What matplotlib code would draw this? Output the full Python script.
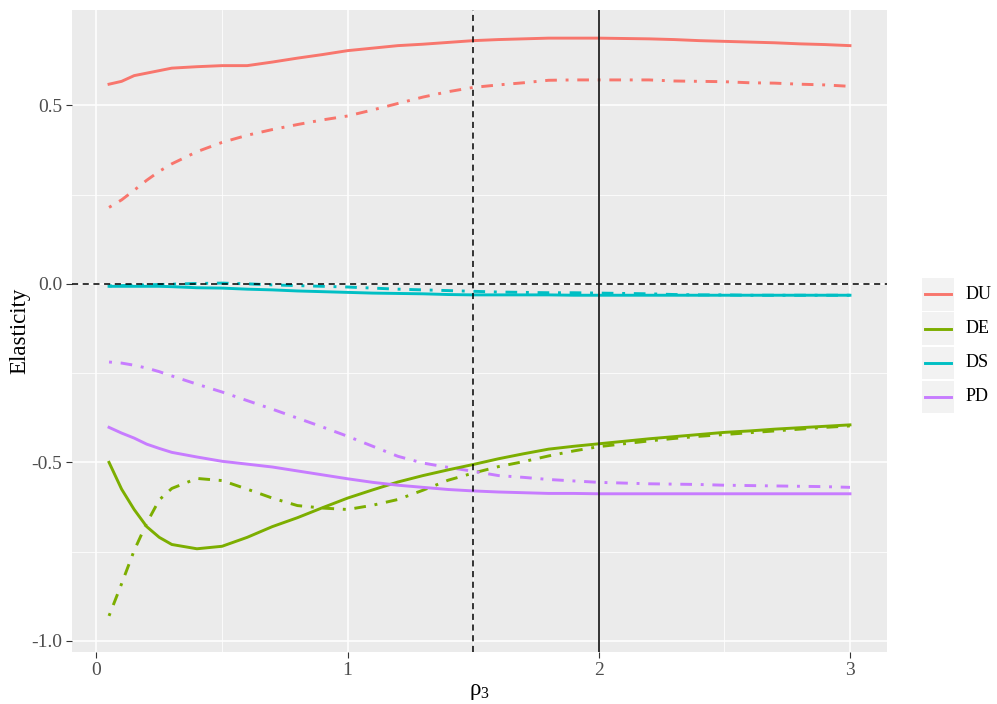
import matplotlib
matplotlib.use("Agg")
import matplotlib.pyplot as plt
from matplotlib.patches import Rectangle
from matplotlib.lines import Line2D

plt.rcParams['font.family'] = ['Liberation Serif', 'DejaVu Serif']
plt.rcParams['mathtext.fontset'] = 'custom'
plt.rcParams['mathtext.rm'] = 'Liberation Serif'
plt.rcParams['axes.unicode_minus'] = False

rho3 = [0.05, 0.1, 0.15, 0.2, 0.25, 0.3, 0.4, 0.5, 0.6, 0.7, 0.8, 0.9, 1.0,
        1.1, 1.2, 1.3, 1.4, 1.5, 1.6, 1.7, 1.8, 1.9, 2.0, 2.1, 2.2, 2.3,
        2.4, 2.5, 2.6, 2.7, 2.8, 2.9, 3.0]

du = [0.559, 0.567, 0.583, 0.590, 0.597, 0.604, 0.608, 0.611, 0.611, 0.621,
      0.632, 0.642, 0.653, 0.660, 0.667, 0.671, 0.676, 0.681, 0.684, 0.686,
      0.688, 0.688, 0.688, 0.687, 0.686, 0.684, 0.681, 0.679, 0.677, 0.675,
      0.672, 0.670, 0.667]
du_alt = [0.214, 0.235, 0.262, 0.290, 0.315, 0.336, 0.370, 0.396, 0.416, 0.432,
          0.446, 0.459, 0.470, 0.487, 0.505, 0.523, 0.538, 0.550, 0.557, 0.563,
          0.570, 0.571, 0.571, 0.571, 0.571, 0.568, 0.567, 0.566, 0.563, 0.562,
          0.559, 0.557, 0.553]

de = [-0.500, -0.575, -0.632, -0.680, -0.710, -0.730, -0.742, -0.735, -0.710,
      -0.680, -0.655, -0.627, -0.600, -0.577, -0.555, -0.537, -0.521, -0.506,
      -0.490, -0.476, -0.463, -0.455, -0.448, -0.441, -0.434, -0.428, -0.422,
      -0.416, -0.412, -0.407, -0.403, -0.399, -0.395]
de_alt = [-0.930, -0.840, -0.747, -0.670, -0.605, -0.573, -0.545, -0.551, -0.575,
          -0.600, -0.621, -0.628, -0.632, -0.620, -0.604, -0.578, -0.550, -0.530,
          -0.512, -0.498, -0.482, -0.468, -0.456, -0.448, -0.440, -0.433, -0.427,
          -0.422, -0.417, -0.412, -0.407, -0.402, -0.398]

ds = [-0.007, -0.007, -0.007, -0.007, -0.007, -0.008, -0.011, -0.012, -0.015,
      -0.017, -0.020, -0.022, -0.024, -0.026, -0.027, -0.028, -0.030, -0.031,
      -0.031, -0.031, -0.031, -0.032, -0.032, -0.032, -0.032, -0.032, -0.032,
      -0.032, -0.032, -0.032, -0.032, -0.032, -0.032]
ds_alt = [-0.006, -0.005, -0.004, -0.003, -0.002, -0.001, 0.001, 0.002, 0.000,
          -0.003, -0.005, -0.007, -0.009, -0.012, -0.015, -0.017, -0.019, -0.021,
          -0.023, -0.024, -0.025, -0.025, -0.026, -0.027, -0.028, -0.030, -0.031,
          -0.031, -0.032, -0.032, -0.032, -0.032, -0.032]

pd_ = [-0.402, -0.418, -0.432, -0.449, -0.461, -0.472, -0.485, -0.497, -0.505,
       -0.513, -0.524, -0.535, -0.546, -0.556, -0.564, -0.570, -0.576, -0.580,
       -0.583, -0.585, -0.587, -0.587, -0.588, -0.588, -0.588, -0.588, -0.588,
       -0.588, -0.588, -0.588, -0.588, -0.588, -0.588]
pd_alt = [-0.219, -0.222, -0.228, -0.236, -0.246, -0.258, -0.281, -0.303, -0.327,
          -0.351, -0.376, -0.401, -0.427, -0.455, -0.483, -0.502, -0.514, -0.525,
          -0.537, -0.542, -0.548, -0.552, -0.556, -0.558, -0.560, -0.561, -0.562,
          -0.564, -0.565, -0.566, -0.567, -0.568, -0.570]

names = ["DU", "DE", "DS", "PD"]
colors = ["#F8766D", "#7CAE00", "#00BFC4", "#C77CFF"]
solid = [du, de, ds, pd_]
dotdash = [du_alt, de_alt, ds_alt, pd_alt]

fig = plt.figure(figsize=(9.97, 7.04), dpi=100)
ax = fig.add_axes([0.0722, 0.0739, 0.8175, 0.912])
ax.set_facecolor("#EBEBEB")
for s in ax.spines.values():
    s.set_visible(False)

for ys, c in zip(dotdash, colors):
    ax.plot(rho3, ys, color=c, lw=2.1, linestyle=(0, (1, 3, 4, 3)), zorder=3)
for ys, c in zip(solid, colors):
    ax.plot(rho3, ys, color=c, lw=2.1, zorder=3)

ax.axhline(0, color="black", lw=1.1, linestyle=(0, (4, 3)), zorder=5)
ax.axvline(1.5, color="black", lw=1.1, linestyle=(0, (4, 3)), zorder=5)
ax.axvline(2, color="#222222", lw=1.3, zorder=5)

ax.set_xlim(-0.0975, 3.1475)
ax.set_ylim(-1.031, 0.767)
ax.set_xticks([0, 1, 2, 3])
ax.set_xticks([0.5, 1.5, 2.5], minor=True)
ax.set_yticks([-1.0, -0.5, 0.0, 0.5])
ax.set_yticklabels(["-1.0", "-0.5", "0.0", "0.5"])
ax.set_yticks([-0.75, -0.25, 0.25], minor=True)
ax.grid(which="major", color="white", lw=1.1)
ax.grid(which="minor", color="white", lw=0.55)
ax.set_axisbelow(True)
ax.tick_params(which="major", length=4, width=0.8, color="#333333",
               labelcolor="#4D4D4D", labelsize=14, pad=3)
ax.tick_params(which="minor", length=0)

ax.set_xlabel(r"ρ$_3$", fontsize=16.5, labelpad=2)
ax.set_ylabel("Elasticity", fontsize=16.5, labelpad=1)

# legend keys
key_x, key_w, key_h = 921.5, 32.5, 32.5
key_tops = [278, 312.5, 346.5, 380.5]
W, H = 997, 704
for name, c, top in zip(names, colors, key_tops):
    fig.add_artist(Rectangle((key_x / W, 1 - (top + key_h) / H), key_w / W, key_h / H,
                             transform=fig.transFigure, facecolor="#F2F2F2",
                             edgecolor="none"))
    yc = 1 - (top + key_h / 2) / H
    fig.add_artist(Line2D([(key_x + 3) / W, (key_x + key_w - 3) / W], [yc, yc],
                          transform=fig.transFigure, color=c, lw=2.1))
    fig.text(966 / W, yc, name, fontsize=13, va="center", ha="left")

fig.savefig("out.png", dpi=100)
